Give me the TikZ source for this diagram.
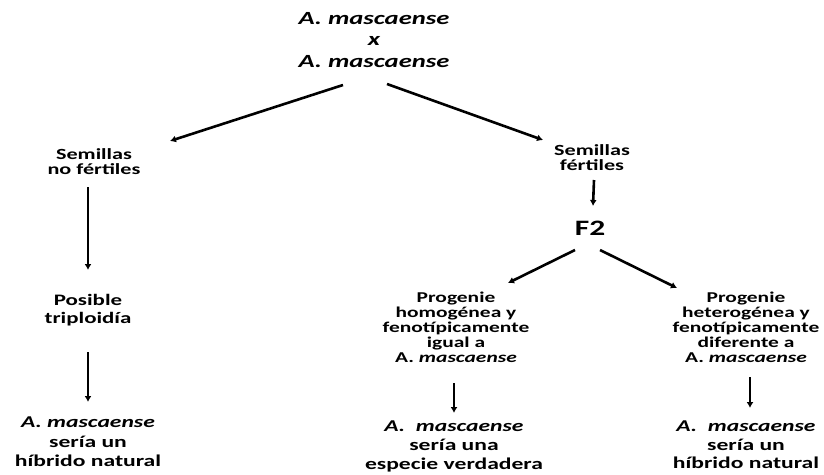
\documentclass[tikz,border=0pt]{standalone}
\usepackage{fontspec}
\setmainfont{Carlito}[FakeStretch=1.43]
\usepackage{tikz}
\usetikzlibrary{arrows.meta}

\begin{document}
\begin{tikzpicture}[x=1pt,y=-1pt,
  texto/.style={align=center,inner sep=0pt,font=\bfseries\fontsize{15.5}{15}\selectfont},
  flecha/.style={-{Latex[length=6pt,width=7pt]},line width=2.6pt}]
\useasboundingbox (0,0) rectangle (824,474);
\node [texto,font=\bfseries\itshape\fontsize{18.6}{21.5}\selectfont] (cruce) at (374,40) {A. mascaense\\x\\A. mascaense};
\node [texto] (nofert) at (94,162) {Semillas\\no fértiles};
\node [texto] (fert) at (592,158) {Semillas\\fértiles};
\node [texto,font=\bfseries\fontsize{16}{18}\selectfont] (posible) at (88,310) {Posible\\triploidía};
\node [texto,font=\bfseries\fontsize{16.5}{19.5}\selectfont] (hibuno) at (88,442) {\textit{A. mascaense}\\sería un\\híbrido natural};
\node [texto,font=\bfseries\fontsize{22}{22}\selectfont] (ftwo) at (590,228) {F2};
\node [texto,font=\bfseries\fontsize{15}{15}\selectfont] (homog) at (456,327) {Progenie\\homogénea y\\fenotípicamente\\igual a\\A. \textit{mascaense}};
\node [texto,font=\bfseries\fontsize{15}{15}\selectfont] (heter) at (746,327) {Progenie\\heterogénea y\\fenotípicamente\\diferente a\\A. \textit{mascaense}};
\node [texto,font=\bfseries\fontsize{16.5}{19}\selectfont] (espver) at (454,446) {\textit{A.\ \ mascaense}\\sería una\\especie verdadera};
\node [texto,font=\bfseries\fontsize{16.5}{18.5}\selectfont] (hibdos) at (746,445) {\textit{A.\ \ mascaense}\\sería un\\híbrido natural};
\draw [flecha] ([shift={(-31,45)}]cruce.center) -- ([shift={(76,-21)}]nofert.center);
\draw [flecha] ([shift={(13,44)}]cruce.center) -- ([shift={(-49,-18)}]fert.center);
\draw [flecha] ([shift={(-6,25)}]nofert.center) -- ([shift={(0,-40)}]posible.center);
\draw [flecha] ([shift={(0,42)}]posible.center) -- ([shift={(0,-40)}]hibuno.center);
\draw [flecha] ([shift={(2,22)}]fert.center) -- ([shift={(3,-22)}]ftwo.center);
\draw [flecha] ([shift={(-15,22)}]ftwo.center) -- ([shift={(52,-44)}]homog.center);
\draw [flecha] ([shift={(10,22)}]ftwo.center) -- ([shift={(-69,-39)}]heter.center);
\draw [flecha] ([shift={(-2,56)}]homog.center) -- ([shift={(0,-33)}]espver.center);
\draw [flecha] ([shift={(4,50)}]heter.center) -- ([shift={(4,-37)}]hibdos.center);
\end{tikzpicture}
\end{document}
